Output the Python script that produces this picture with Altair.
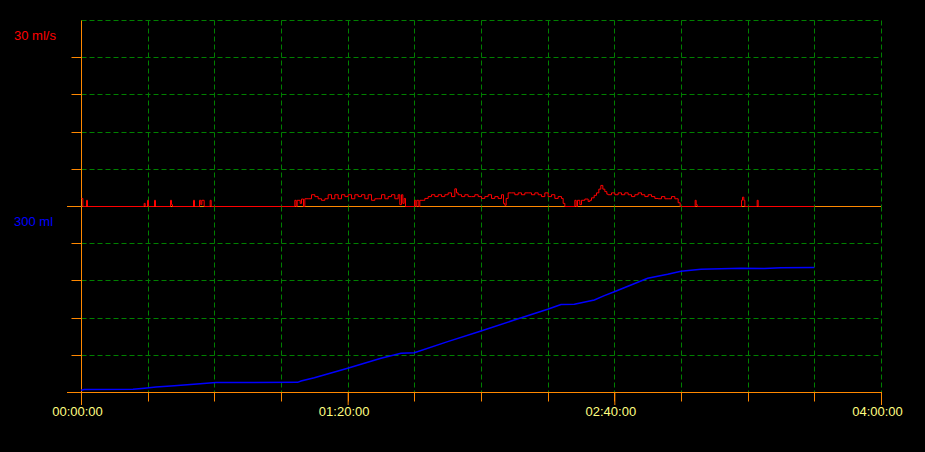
import altair as alt
import pandas as pd

# ---- data ----
# Flow (ml/s), step-after samples: time in minutes
flow_t = [0, 0.4, 1.5, 1.8, 18.8, 19.1, 19.8, 20.1, 21.9, 22.2, 26.7, 27.0, 27.3,
          33.6, 33.9, 35.4, 35.8, 36.1, 36.8, 38.6, 38.9,
          64.0, 64.4, 64.7, 65.6, 66.0, 66.6,
          67, 68, 69, 70, 71, 72, 73, 74, 75, 76, 77, 78, 79, 80, 81, 82, 83, 84, 85, 86,
          87, 88, 89, 90, 91, 92, 93, 94, 95, 95.5, 96, 96.4, 96.8, 97.2,
          99.9, 100.3, 100.6, 101.2, 101.5,
          102.5, 103, 104, 105, 106, 107, 108, 109, 110, 111, 112, 112.5, 113, 114, 115,
          116, 117, 118, 119, 120, 121, 122, 123, 124, 125, 126, 126.6, 127, 127.4,
          128, 129, 130, 131, 132, 133, 134, 135, 136, 137, 138, 139, 140, 141, 142, 143,
          144, 144.5, 145,
          148, 148.4, 148.8, 149.5, 150, 151, 152, 152.5, 153, 153.8, 154.5, 155.2, 155.8,
          156.4, 157, 157.6, 158, 159, 160, 161, 162, 163, 164, 165, 166, 167, 168, 169,
          170, 171, 172, 173, 174, 175, 176, 177, 178, 179, 179.6,
          184.1, 184.4, 184.7, 198.0, 198.3, 198.7, 199.0, 202.7, 203.0, 220]
flow_v = [1.3, 0, 1.0, 0, 0.5, 0, 1.0, 0, 1.0, 0, 1.0, 0.3, 0,
          1.0, 0, 1.0, 0.3, 1.0, 0, 1.0, 0,
          1.0, 0, 1.0, 0.5, 1.2, 0,
          1.25, 1.25, 1.9, 1.6, 1.25, 1.0, 1.25, 1.9, 1.25, 1.9, 1.25, 1.9, 1.6, 1.9, 1.25, 1.9,
          1.6, 1.9, 1.25, 1.9, 1.0, 1.25, 1.25, 1.9, 1.25, 1.6, 1.9, 1.25, 1.9, 0.3, 1.9, 0.5,
          1.3, 0,
          1.0, 0, 1.0, 0, 1.0,
          1.0, 1.3, 1.6, 1.9, 1.6, 1.9, 1.6, 1.9, 2.2, 1.6, 2.85, 2.2, 1.9, 1.6, 1.9,
          1.6, 1.6, 1.9, 1.6, 1.3, 1.6, 1.9, 1.3, 1.6, 1.3, 1.9, 0.5, 0.2, 1.3,
          2.2, 2.2, 1.9, 2.2, 1.9, 2.2, 2.2, 1.9, 2.2, 1.9, 1.6, 2.2, 1.6, 1.9, 1.3, 1.6,
          1.3, 0.5, 0,
          1.0, 0, 1.0, 0.3, 1.0, 1.2, 0.8, 1.0, 1.4, 1.8, 2.2, 2.8, 3.4,
          2.8, 2.4, 2.0, 1.9, 2.2, 1.9, 2.2, 1.9, 2.2, 1.9, 1.6, 1.9, 2.2, 1.9, 1.6,
          1.9, 1.6, 1.3, 1.25, 1.6, 1.25, 1.25, 1.6, 1.25, 0.6, 0,
          1.0, 0.3, 0, 1.0, 1.5, 1.0, 0, 1.0, 0, 0]

# Volume (ml)
vol_t = [0, 1, 15.6, 19, 22.5, 28, 34.8, 40.5, 65, 66, 70, 80, 90, 96, 100, 110, 120,
         130, 140, 144, 148, 154, 157, 160, 170, 176, 180, 186, 198, 205, 210, 220]
vol_v = [3, 4, 4.4, 6, 8, 10, 13, 15.3, 15.6, 17.7, 23, 38.2, 54.3, 62.4, 63.4, 81.2, 98.4,
         116, 133.4, 141, 141.4, 148.4, 155.4, 161.8, 183.4, 189.8, 194.7, 197.9, 199.5,
         199, 200.5, 201]

x_ticks = list(range(0, 241, 20))
major_ticks = [0, 80, 160, 240]
flow_grid = [6, 12, 18, 24, 30]
vol_grid = [60, 120, 180, 240]
flow_label = "30 ml/s"
vol_label = "300 ml"

ORANGE = "#ff8800"
GREEN = "#008000"
FONT = "Liberation Sans, Arial, sans-serif"
W, H = 800, 186

flow_df = pd.DataFrame({"t": flow_t, "flow": flow_v})
vol_df = pd.DataFrame({"t": vol_t, "vol": vol_v})
one = pd.DataFrame({"a": [0]})
major_df = pd.DataFrame({"t": major_ticks})

xscale = alt.Scale(domain=[0, 240], nice=False, zero=False)

x_top = alt.X("t:Q", scale=xscale,
              axis=alt.Axis(values=x_ticks, grid=True, gridColor=GREEN, gridDash=[5, 3],
                            gridOpacity=1, ticks=False, labels=False, domain=False, title=None,
                            minExtent=0, maxExtent=0, offset=0, labelPadding=0, tickSize=0))
y_top = alt.Y("flow:Q", scale=alt.Scale(domain=[0, 30], nice=False),
              axis=alt.Axis(values=flow_grid, grid=True, gridColor=GREEN, gridDash=[5, 3],
                            gridOpacity=1, tickColor=ORANGE, tickSize=10,
                            tickOpacity={"condition": {"test": "datum.value >= 30", "value": 0}, "value": 1},
                            labels=False, domain=True, domainColor=ORANGE, title=None))

baseline = alt.Chart(one).mark_rule(color=ORANGE, strokeWidth=1).encode(
    x=alt.value(-14), x2=alt.value(W), y=alt.value(H + 0.5))
flow_line = alt.Chart(flow_df).mark_line(color="#ff0000", strokeWidth=1,
                                         interpolate="step-after",
                                         xOffset=0.5, yOffset=0.5).encode(x=x_top, y=y_top)
flow_text = alt.Chart(pd.DataFrame({"label": [flow_label]})).mark_text(
    color="#ff0000", font=FONT, fontSize=13, align="left", baseline="middle").encode(
    x=alt.value(-67), y=alt.value(16), text="label:N")

top = alt.layer(baseline, flow_line, flow_text).properties(width=W, height=H)

label_expr = ("datum.value % 80 == 0 ? '0' + floor(datum.value / 60) + ':' + "
              "(datum.value % 60 < 10 ? '0' : '') + (datum.value % 60) + ':00' : ''")
x_bot = alt.X("t:Q", scale=xscale,
              axis=alt.Axis(values=x_ticks, grid=True, gridColor=GREEN, gridDash=[5, 3],
                            gridOpacity=1, ticks=True, tickColor=ORANGE, tickSize=9,
                            labels=True, labelExpr=label_expr, labelColor="#ffff80",
                            labelFont=FONT, labelFontSize=13, labelPadding=4,
                            labelFlush=False, labelOverlap=False, labelOffset=-4,
                            domain=True, domainColor=ORANGE, title=None))
y_bot = alt.Y("vol:Q", scale=alt.Scale(domain=[0, 300], nice=False),
              axis=alt.Axis(values=vol_grid, grid=True, gridColor=GREEN, gridDash=[5, 3],
                            gridOpacity=1, tickColor=ORANGE, tickSize=10,
                            labels=False, domain=True, domainColor=ORANGE, title=None))

left_ext = alt.Chart(one).mark_rule(color=ORANGE, strokeWidth=1).encode(
    x=alt.value(-14), x2=alt.value(0), y=alt.value(H + 0.5))
major = alt.Chart(major_df).mark_rule(color=ORANGE, strokeWidth=1, xOffset=0.5).encode(
    x=alt.X("t:Q", scale=xscale), y=alt.value(H), y2=alt.value(H + 13))
vol_line = alt.Chart(vol_df).mark_line(color="#0000ff", strokeWidth=1.5).encode(x=x_bot, y=y_bot)
vol_text = alt.Chart(pd.DataFrame({"label": [vol_label]})).mark_text(
    color="#0000ff", font=FONT, fontSize=13, align="left", baseline="middle").encode(
    x=alt.value(-67), y=alt.value(16), text="label:N")

bottom = alt.layer(left_ext, major, vol_line, vol_text).properties(width=W, height=H)

chart = alt.vconcat(top, bottom, spacing=0, bounds="flush").properties(
    background="#000000",
    padding={"left": 5, "top": 11, "right": 5, "bottom": 5},
).configure_view(stroke="transparent")

# make the page around the chart black as well
_STYLE = "<head>\n<style>body{background:#000000;}</style>"


class _BlackTemplate:
    def __init__(self, inner):
        self.inner = inner

    def render(self, *args, **kwargs):
        return self.inner.render(*args, **kwargs).replace("<head>", _STYLE, 1)


try:
    import altair.utils.html as _alt_html
    if hasattr(_alt_html, "TEMPLATES"):
        for _k in list(_alt_html.TEMPLATES):
            _alt_html.TEMPLATES[_k] = _BlackTemplate(_alt_html.TEMPLATES[_k])
except Exception:
    pass

chart.save("out.html", embed_options={"renderer": "svg", "actions": False})
